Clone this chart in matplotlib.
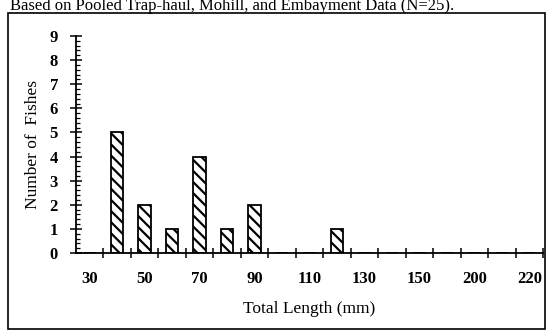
import matplotlib
matplotlib.use("Agg")
import matplotlib.pyplot as plt
from matplotlib.patches import Rectangle
from matplotlib.ticker import MultipleLocator, FixedLocator

# Length classes (mm) and fish counts per class
length_classes = [30, 40, 50, 60, 70, 80, 90, 100, 110, 120, 130, 140, 150, 175, 200, 210, 220]
fish_counts = [0, 5, 2, 1, 4, 1, 2, 0, 0, 1, 0, 0, 0, 0, 0, 0, 0]
shown_labels = ["30", "50", "70", "90", "110", "130", "150", "200", "220"]

title_text = "Based on Pooled Trap-haul, Mohill, and Embayment Data (N=25)."

plt.rcParams["font.family"] = ["Liberation Serif", "DejaVu Serif"]
plt.rcParams["hatch.linewidth"] = 1.6

W, H = 547, 333
fig = plt.figure(figsize=(W / 100, H / 100), dpi=100)
ax = fig.add_axes([76 / W, 1 - 253 / H, (543 - 76) / W, (253 - 36) / H])

idx = list(range(len(length_classes)))
ax.bar(idx, fish_counts, width=0.45, color="white", edgecolor="black",
       linewidth=1.3, hatch="\\\\\\")

ax.set_xlim(-0.5, len(length_classes) - 0.5)
ax.set_ylim(0, 9)

for side in ("top", "right"):
    ax.spines[side].set_visible(False)
ax.spines["left"].set_linewidth(1.3)
ax.spines["bottom"].set_linewidth(1.3)

# x: boundary ticks between classes, labels at every other class centre
ax.xaxis.set_major_locator(FixedLocator([i + 0.5 for i in idx]))
ax.xaxis.set_major_formatter(plt.NullFormatter())
ax.xaxis.set_minor_locator(FixedLocator(idx[::2]))
ax.set_xticklabels(shown_labels, minor=True, fontweight="bold")
ax.tick_params(axis="x", which="major", direction="inout", length=7, width=1.1)
ax.tick_params(axis="x", which="minor", length=0, pad=13, labelsize=12)

# y: integer ticks with fine minor ticks
ax.yaxis.set_major_locator(MultipleLocator(1))
ax.yaxis.set_minor_locator(MultipleLocator(0.2))
ax.tick_params(axis="y", which="major", direction="inout", length=8, width=1.1,
               labelsize=12, pad=9)
ax.tick_params(axis="y", which="minor", direction="in", length=3, width=0.9)
for lbl in ax.get_yticklabels():
    lbl.set_fontweight("bold")

ax.set_xlabel("Total Length (mm)", fontsize=12.5, labelpad=10)
ax.set_ylabel("Number of  Fishes", fontsize=12.5, labelpad=6)

# surrounding frame
fig.patches.append(Rectangle((8 / W, 1 - 329 / H), (545 - 8) / W, (329 - 13) / H,
                             transform=fig.transFigure, fill=False,
                             edgecolor="black", linewidth=1.2))

fig.text(10 / W, 1 - 10 / H, title_text, fontsize=12, ha="left", va="baseline")

fig.savefig("out.png", dpi=100)
